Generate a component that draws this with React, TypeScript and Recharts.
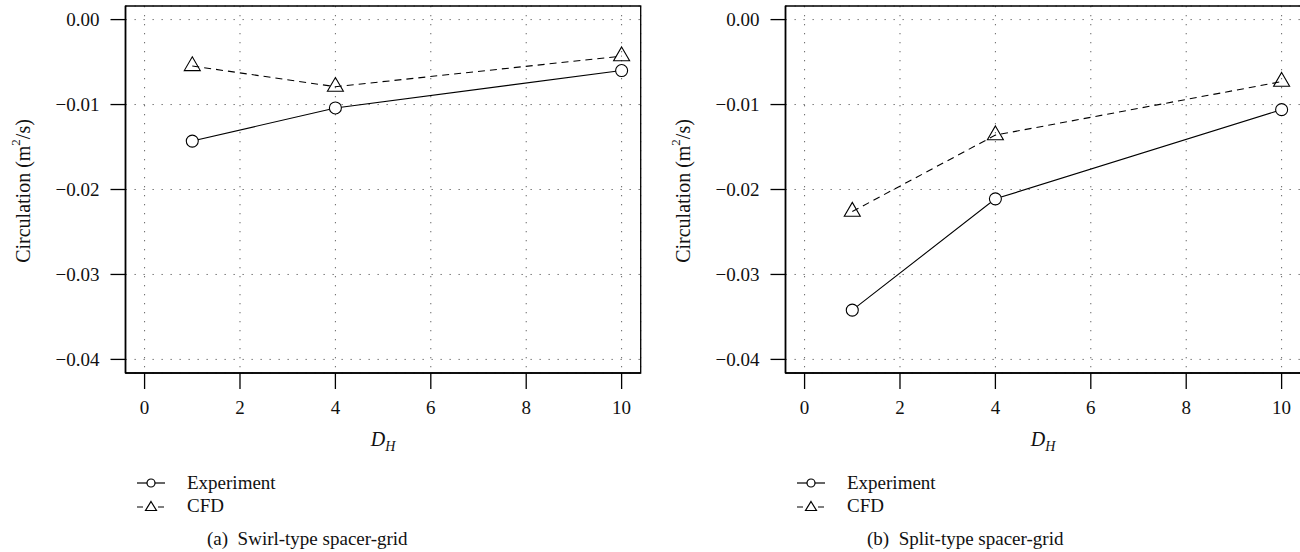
import React from "react";
import {
  LineChart,
  Line,
  XAxis,
  YAxis,
  CartesianGrid,
  ReferenceArea,
} from "recharts";

const DH = [1, 4, 10];
const SWIRL_EXP = [-0.0143, -0.0104, -0.006];
const SWIRL_CFD = [-0.00546, -0.0079, -0.0043];
const SPLIT_EXP = [-0.0342, -0.0211, -0.0106];
const SPLIT_CFD = [-0.0226, -0.0136, -0.0073];

const X_TICKS = [0, 2, 4, 6, 8, 10];
const Y_TICKS = [0, -0.01, -0.02, -0.03, -0.04];
const X_DOMAIN: [number, number] = [-0.4, 10.4];
const Y_DOMAIN: [number, number] = [-0.0416, 0.0016];

const SERIES_NAMES = ["Experiment", "CFD"];
const CAPTIONS = ["(a)\u2002Swirl-type spacer-grid", "(b)\u2002Split-type spacer-grid"];

const FONT = '"Liberation Serif", "DejaVu Serif", serif';

const fmtY = (v: number) => {
  const s = Math.abs(v).toFixed(2);
  return v < 0 ? "\u2212" + s : s;
};

const CircleDot = (p: any) => {
  if (p.cx == null || p.cy == null) return null;
  return <circle key={p.index} cx={p.cx} cy={p.cy} r={6} fill="#fff" stroke="#000" strokeWidth={1.1} />;
};

const TriDot = (p: any) => {
  if (p.cx == null || p.cy == null) return null;
  const { cx, cy } = p;
  const pts = `${cx},${cy - 9.2} ${cx + 8},${cy + 4.6} ${cx - 8},${cy + 4.6}`;
  return <polygon key={p.index} points={pts} fill="none" stroke="#000" strokeWidth={1.1} />;
};

function Panel({ exp, cfd, left, caption }: { exp: number[]; cfd: number[]; left: number; caption: string }) {
  const data = DH.map((x, i) => ({ x, exp: exp[i], cfd: cfd[i] }));
  return (
    <div style={{ position: "absolute", left, top: 0, width: 650, height: 552 }}>
      <LineChart width={650} height={552} data={data} margin={{ top: 6, right: 9.3, bottom: 0, left: 0 }}>
        <CartesianGrid stroke="#666" strokeDasharray="1.3 7.7" strokeWidth={1} />
        <ReferenceArea
          x1={X_DOMAIN[0]}
          x2={X_DOMAIN[1]}
          y1={Y_DOMAIN[0]}
          y2={Y_DOMAIN[1]}
          fill="none"
          stroke="#000"
          strokeWidth={1.3}
          ifOverflow="visible"
        />
        <XAxis
          dataKey="x"
          type="number"
          domain={X_DOMAIN}
          ticks={X_TICKS}
          allowDataOverflow
          height={179}
          tickSize={16}
          tickMargin={12}
          axisLine={{ stroke: "#000", strokeWidth: 1.6 }}
          tickLine={{ stroke: "#000", strokeWidth: 1.3 }}
          tick={{ fill: "#111", fontSize: 19, fontFamily: FONT }}
          label={{
            content: () => (
              <text x={383} y={446} textAnchor="middle" fontFamily={FONT} fontSize={20} fill="#111" fontStyle="italic">
                D
                <tspan dy={5} fontSize={14}>H</tspan>
              </text>
            ),
          }}
        />
        <YAxis
          type="number"
          domain={Y_DOMAIN}
          ticks={Y_TICKS}
          allowDataOverflow
          width={125.5}
          tickSize={15}
          tickMargin={11}
          tickFormatter={fmtY}
          axisLine={{ stroke: "#000", strokeWidth: 1.6 }}
          tickLine={{ stroke: "#000", strokeWidth: 1.3 }}
          tick={{ fill: "#111", fontSize: 19, fontFamily: FONT }}
          label={{
            content: () => (
              <text
                x={23}
                y={191}
                transform="rotate(-90, 23, 191)"
                textAnchor="middle"
                dominantBaseline="central"
                fontFamily={FONT}
                fontSize={20}
                fill="#111"
              >
                Circulation (m
                <tspan dy={-8} fontSize={13}>2</tspan>
                <tspan dy={8}>/s)</tspan>
              </text>
            ),
          }}
        />
        <Line
          dataKey="exp"
          name={SERIES_NAMES[0]}
          type="linear"
          stroke="#000"
          strokeWidth={1.1}
          dot={CircleDot}
          activeDot={false}
          isAnimationActive={false}
        />
        <Line
          dataKey="cfd"
          name={SERIES_NAMES[1]}
          type="linear"
          stroke="#000"
          strokeWidth={1.1}
          strokeDasharray="7 5"
          dot={TriDot}
          activeDot={false}
          isAnimationActive={false}
        />
      </LineChart>
      <div style={{ position: "absolute", left: 137, top: 471, fontFamily: FONT, fontSize: 19, color: "#111" }}>
        <div style={{ display: "flex", alignItems: "center", height: 23 }}>
          <svg width={28} height={12} style={{ marginRight: 22 }}>
            <line x1={0} y1={6} x2={28} y2={6} stroke="#000" strokeWidth={1.2} />
            <circle cx={14} cy={6} r={4} fill="#fff" stroke="#000" strokeWidth={1.2} />
          </svg>
          {SERIES_NAMES[0]}
        </div>
        <div style={{ display: "flex", alignItems: "center", height: 23 }}>
          <svg width={28} height={12} style={{ marginRight: 22 }}>
            <line x1={0} y1={7} x2={28} y2={7} stroke="#000" strokeWidth={1.2} strokeDasharray="6 4.5" />
            <polygon points="14,1.5 19.5,10.5 8.5,10.5" fill="#fff" stroke="#000" strokeWidth={1.2} />
          </svg>
          {SERIES_NAMES[1]}
        </div>
      </div>
      <div style={{ position: "absolute", left: 207, top: 528, fontFamily: FONT, fontSize: 19, color: "#111", whiteSpace: "pre" }}>
        {caption}
      </div>
    </div>
  );
}

export default function App() {
  return (
    <div style={{ position: "fixed", left: 0, top: 0, width: 1300, height: 552, overflow: "hidden", background: "#fff" }}>
      <Panel exp={SWIRL_EXP} cfd={SWIRL_CFD} left={0} caption={CAPTIONS[0]} />
      <Panel exp={SPLIT_EXP} cfd={SPLIT_CFD} left={660} caption={CAPTIONS[1]} />
    </div>
  );
}
